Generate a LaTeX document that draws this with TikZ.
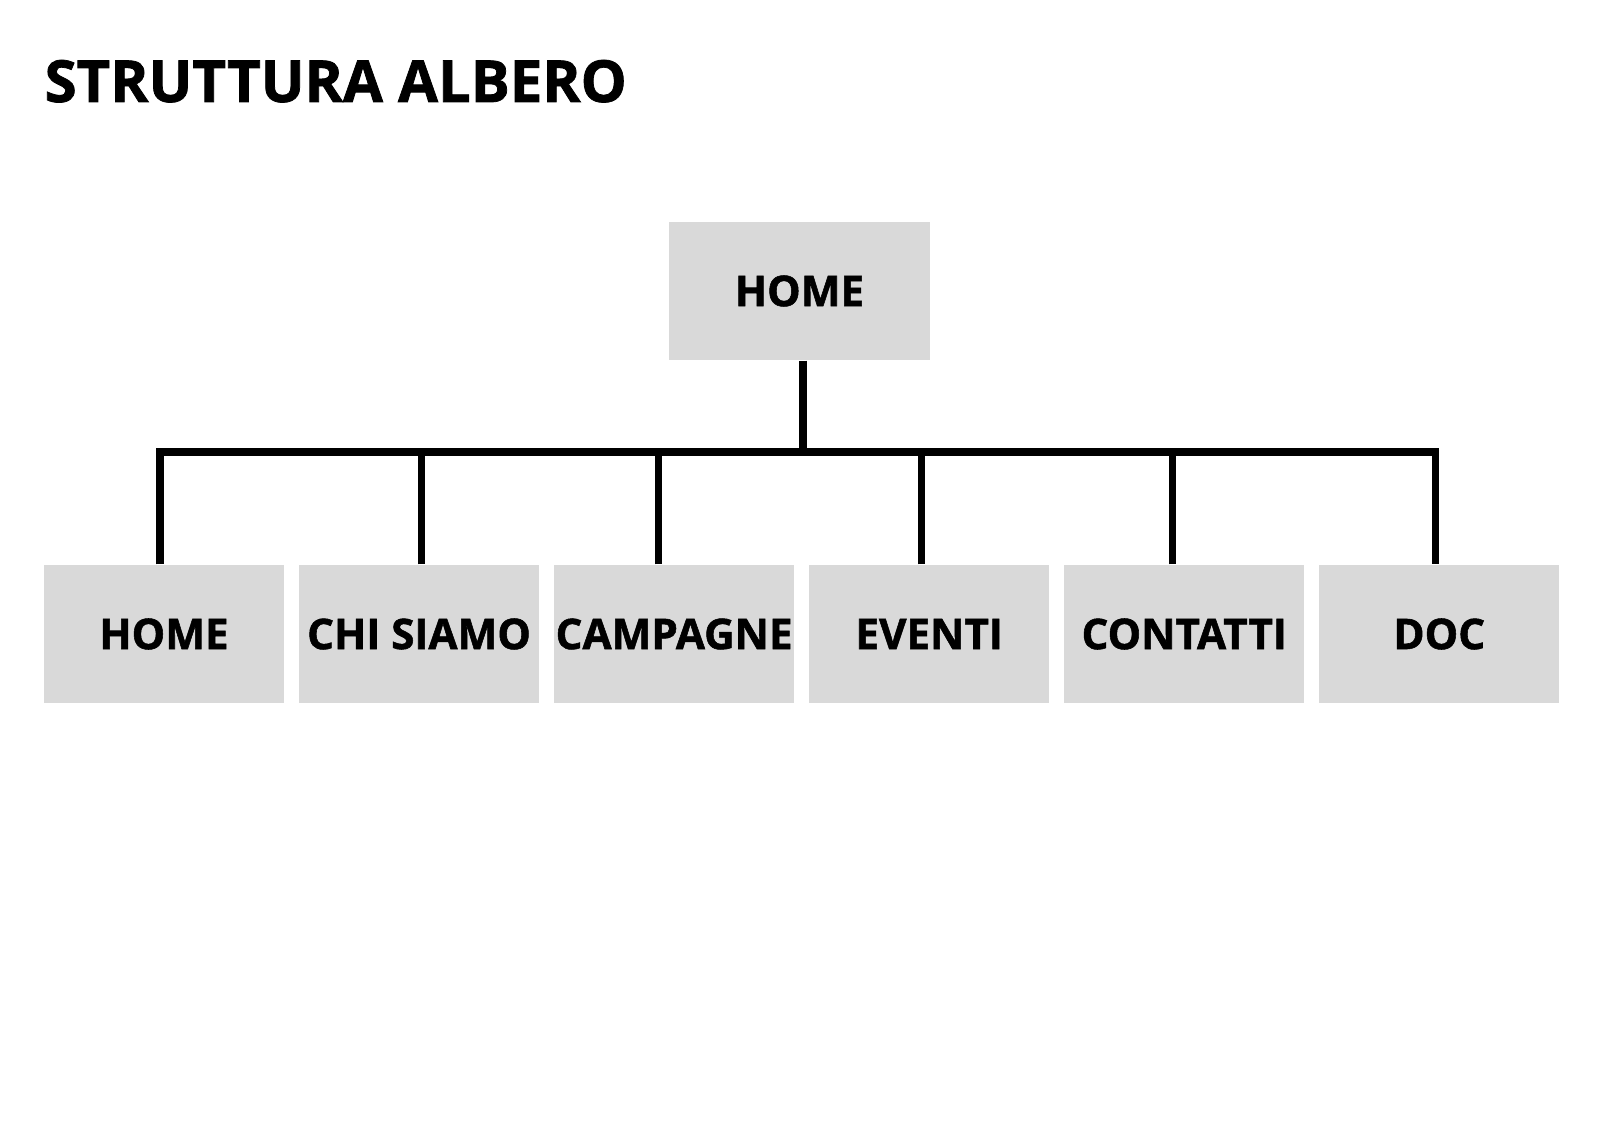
\documentclass[tikz,border=0pt]{standalone}
\usepackage{fontspec}
\setmainfont{Open Sans}[BoldFeatures={FakeBold=1.3}]
\usepackage{tikz}
\usetikzlibrary{positioning,calc}
\definecolor{boxgray}{HTML}{D9D9D9}

\begin{document}
\begin{tikzpicture}[x=0.01cm, y=-0.01cm,
  pagina/.style={fill=boxgray, minimum width=2.4cm, minimum height=1.38cm,
                 inner sep=0pt, font=\bfseries\fontsize{12}{14}\selectfont},
  linea/.style={line width=2pt, black}
]
\fill[white] (0,0) rectangle (1600,1131);
\useasboundingbox (0,0) rectangle (1600,1131);

\node[anchor=base west, inner sep=0pt, font=\bfseries\fontsize{16.5}{20}\selectfont]
  (titolo) at (44,102) {STRUTTURA ALBERO};

\node[pagina, minimum width=2.61cm] (home) at (799.5,291) {HOME};

\node[pagina] (c1) at (164,634) {HOME};
\node[pagina, right=0.135cm of c1] (c2) {CHI SIAMO};
\node[pagina, right=0.135cm of c2] (c3) {CAMPAGNE};
\node[pagina, right=0.135cm of c3] (c4) {EVENTI};
\node[pagina, right=0.135cm of c4] (c5) {CONTATTI};
\node[pagina, right=0.135cm of c5] (c6) {DOC};

\coordinate (bus) at (0,452);
\coordinate (dhome) at ($(home.south)+(3.5,0)$);
\foreach \n/\dx in {c1/-4, c2/2.5, c3/-15.5, c4/-7.5, c5/-12, c6/-3.5}
  \coordinate (d\n) at ($(\n.north)+(\dx,0)$);

\draw[linea] (dhome) -- (dhome |- bus);
\draw[linea] (dc1) |- (dc6 |- bus) -- (dc6);
\foreach \n in {c2,c3,c4,c5}
  \draw[linea] (d\n) -- (d\n |- bus);
\end{tikzpicture}
\end{document}
